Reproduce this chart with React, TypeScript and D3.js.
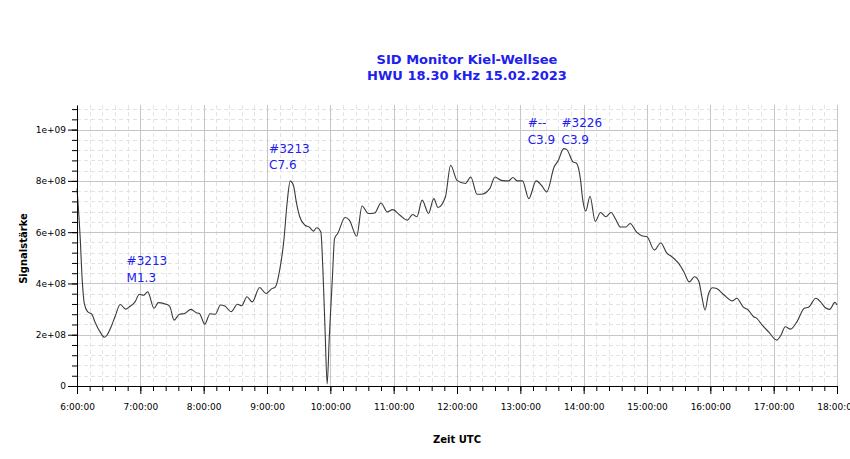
import * as d3 from "d3";
import React, { useEffect, useRef } from "react";

// readings, signal strength in units of 1e8
const times = [
  "06:00", "06:03", "06:05", "06:07", "06:10", "06:14", "06:17", "06:22", "06:26", "06:28",
  "06:33", "06:36", "06:41", "06:46", "06:50", "06:55", "06:59", "07:03", "07:07", "07:13",
  "07:17", "07:25", "07:28", "07:32", "07:37", "07:42", "07:48", "07:53", "07:56", "08:01",
  "08:06", "08:11", "08:16", "08:20", "08:26", "08:32", "08:36", "08:41", "08:46", "08:53",
  "08:59", "09:04", "09:08", "09:12", "09:16", "09:19", "09:22", "09:25", "09:28", "09:31",
  "09:36", "09:40", "09:44", "09:47", "09:51", "09:53", "09:55", "09:57", "09:59", "10:02",
  "10:04", "10:07", "10:14", "10:18", "10:25", "10:30", "10:36", "10:42", "10:48", "10:54",
  "10:59", "11:06", "11:13", "11:18", "11:22", "11:27", "11:33", "11:38", "11:42", "11:49",
  "11:54", "12:00", "12:08", "12:13", "12:19", "12:23", "12:31", "12:36", "12:42", "12:49",
  "12:53", "12:57", "13:02", "13:08", "13:15", "13:20", "13:25", "13:32", "13:36", "13:41",
  "13:44", "13:50", "13:53", "13:57", "13:59", "14:02", "14:06", "14:11", "14:16", "14:21",
  "14:26", "14:30", "14:35", "14:40", "14:44", "14:50", "14:55", "15:00", "15:07", "15:13",
  "15:19", "15:23", "15:30", "15:35", "15:40", "15:45", "15:49", "15:52", "15:55", "15:58",
  "16:02", "16:06", "16:13", "16:21", "16:25", "16:31", "16:36", "16:41", "16:44", "16:49",
  "16:55", "17:03", "17:07", "17:11", "17:16", "17:22", "17:29", "17:33", "17:40", "17:45",
  "17:49", "17:53", "17:58", "18:00",
];

const signalE8 = [
  7.7, 5.8, 4.1, 3.2, 2.9, 2.8, 2.5, 2.1, 1.9, 1.96,
  2.38, 2.7, 3.18, 3.0, 3.1, 3.28, 3.58, 3.54, 3.67, 3.03,
  3.25, 3.18, 3.09, 2.57, 2.8, 2.83, 2.99, 2.86, 2.83, 2.41,
  2.82, 2.8, 3.16, 3.12, 2.9, 3.19, 3.13, 3.48, 3.28, 3.84,
  3.61, 3.78, 3.87, 4.52, 5.69, 7.12, 7.99, 7.83, 7.12, 6.6,
  6.27, 6.2, 6.04, 6.17, 6.01, 4.5, 2.2, 0.08, 1.9, 4.26,
  5.75, 5.95, 6.57, 6.47, 5.84, 7.02, 6.73, 6.75, 7.14, 6.79,
  6.88, 6.66, 6.47, 6.69, 6.6, 7.25, 6.73, 7.31, 6.96, 7.37,
  8.61, 8.02, 7.9, 8.15, 7.48, 7.48, 7.7, 8.15, 8.02, 8.0,
  8.13, 8.0, 8.0, 7.31, 8.0, 7.83, 7.57, 8.54, 8.8, 9.26,
  9.22, 8.74, 8.7, 8.05, 7.3, 6.83, 7.4, 6.42, 6.77, 6.6,
  6.77, 6.53, 6.2, 6.2, 6.34, 6.01, 5.86, 5.82, 5.3, 5.58,
  5.17, 5.06, 4.78, 4.45, 4.06, 4.26, 4.1, 3.48, 2.96, 3.55,
  3.83, 3.8, 3.55, 3.32, 3.42, 3.09, 2.96, 2.7, 2.64, 2.38,
  2.12, 1.79, 1.99, 2.31, 2.22, 2.5, 3.03, 3.07, 3.42, 3.25,
  3.05, 2.99, 3.26, 3.16,
];

// flare annotations
const annoTimes = ["06:47", "09:02", "13:07", "13:39"];
const annoLevelE8 = [4.71, 9.1, 10.1, 10.1];
const annoTop = ["#3213", "#3213", "#--", "#3226"];
const annoBottom = ["M1.3", "C7.6", "C3.9", "C3.9"];

const yTicks = [0, 2e8, 4e8, 6e8, 8e8, 1e9];
const yMax = 1.096e9;
const titleLines = ["SID Monitor Kiel-Wellsee", "HWU 18.30 kHz 15.02.2023"];

const W = 850;
const H = 459;
const margin = { top: 105, right: 13, bottom: 73, left: 77 };
const FONT = "'DejaVu Sans', Verdana, sans-serif";
const BLUE = "#2020ee";

export default function App() {
  const svgRef = useRef<SVGSVGElement | null>(null);

  useEffect(() => {
    document.body.style.margin = "0";
    const svg = d3.select(svgRef.current);
    svg.selectAll("*").remove();

    const parse = d3.utcParse("%H:%M");
    const data = times.map((t, i) => ({ t: parse(t)!, v: signalE8[i] * 1e8 }));

    const x0 = margin.left;
    const x1 = W - margin.right;
    const y0 = H - margin.bottom;
    const y1 = margin.top;

    const x = d3
      .scaleUtc()
      .domain([parse("06:00")!, parse("18:00")!])
      .range([x0, x1]);
    const y = d3.scaleLinear().domain([0, yMax]).range([y0, y1]);

    const minorX = d3.utcMinute.every(12)!.range(x.domain()[0], new Date(+x.domain()[1] + 1));
    const majorX = d3.utcHour.every(1)!.range(x.domain()[0], new Date(+x.domain()[1] + 1));
    const minorY = d3.range(0, yMax, 4e7);

    const px = (v: number) => Math.round(v) + 0.5;

    const grid = svg.append("g");
    // minor dashed grid
    grid
      .selectAll(".vminor")
      .data(minorX)
      .enter()
      .append("line")
      .attr("x1", (d) => px(x(d)))
      .attr("x2", (d) => px(x(d)))
      .attr("y1", y1)
      .attr("y2", y0)
      .attr("stroke", "#e3e3e3")
      .attr("stroke-dasharray", "4,3");
    grid
      .selectAll(".hminor")
      .data(minorY)
      .enter()
      .append("line")
      .attr("x1", x0)
      .attr("x2", x1)
      .attr("y1", (d) => px(y(d)))
      .attr("y2", (d) => px(y(d)))
      .attr("stroke", "#e3e3e3")
      .attr("stroke-dasharray", "4,3");
    // major solid grid
    grid
      .selectAll(".vmajor")
      .data(majorX)
      .enter()
      .append("line")
      .attr("x1", (d) => px(x(d)))
      .attr("x2", (d) => px(x(d)))
      .attr("y1", y1)
      .attr("y2", y0)
      .attr("stroke", "#c6c6c6");
    grid
      .selectAll(".hmajor")
      .data(yTicks)
      .enter()
      .append("line")
      .attr("x1", x0)
      .attr("x2", x1)
      .attr("y1", (d) => px(y(d)))
      .attr("y2", (d) => px(y(d)))
      .attr("stroke", "#c6c6c6");

    const line = d3
      .line<{ t: Date; v: number }>()
      .x((d) => x(d.t))
      .y((d) => y(d.v))
      .curve(d3.curveMonotoneX);

    svg
      .append("path")
      .datum(data)
      .attr("d", line)
      .attr("fill", "none")
      .attr("stroke", "#3a3a3a")
      .attr("stroke-width", 1.1);

    // axes
    const fmt = d3.utcFormat("%-H:%M:%S");
    const xMinorAxis = svg
      .append("g")
      .attr("transform", `translate(0,${y0})`)
      .call(d3.axisBottom(x).tickValues(minorX).tickSize(5).tickSizeOuter(0).tickFormat(() => ""));
    xMinorAxis.select(".domain").remove();
    const xAxis = svg
      .append("g")
      .attr("transform", `translate(0,${y0})`)
      .call(
        d3
          .axisBottom(x)
          .tickValues(majorX)
          .tickSize(8)
          .tickSizeOuter(0)
          .tickPadding(9.6)
          .tickFormat((d) => fmt(d as Date))
      );
    xAxis.attr("font-family", FONT).attr("font-size", 9);

    const yMinorAxis = svg
      .append("g")
      .attr("transform", `translate(${x0},0)`)
      .call(d3.axisLeft(y).tickValues(minorY).tickSize(5).tickSizeOuter(0).tickFormat(() => ""));
    yMinorAxis.select(".domain").remove();
    const yAxis = svg
      .append("g")
      .attr("transform", `translate(${x0},0)`)
      .call(
        d3
          .axisLeft(y)
          .tickValues(yTicks)
          .tickSize(9)
          .tickSizeOuter(0)
          .tickPadding(2)
          .tickFormat((d) => (d === 0 ? "0" : d3.format(".0e")(d as number).replace(/e\+(\d)$/, "e+0$1")))
      );
    yAxis.attr("font-family", FONT).attr("font-size", 9);

    // annotations
    const ann = svg.append("g").attr("font-family", FONT).attr("font-size", 12).attr("fill", BLUE);
    annoTimes.forEach((t, i) => {
      const ax = x(parse(t)!);
      const ay = y(annoLevelE8[i] * 1e8);
      ann.append("text").attr("x", ax).attr("y", ay).text(annoTop[i]);
      ann.append("text").attr("x", ax).attr("y", ay + 16.7).text(annoBottom[i]);
    });

    // titles
    const title = svg
      .append("g")
      .attr("font-family", FONT)
      .attr("font-size", 13)
      .attr("font-weight", "bold")
      .attr("fill", BLUE)
      .attr("text-anchor", "middle");
    titleLines.forEach((s, i) => {
      title.append("text").attr("x", 467).attr("y", 64 + i * 16).text(s);
    });

    svg
      .append("text")
      .attr("x", (x0 + x1) / 2)
      .attr("y", 443)
      .attr("text-anchor", "middle")
      .attr("font-family", FONT)
      .attr("font-size", 10)
      .attr("font-weight", "bold")
      .text("Zeit UTC");

    svg
      .append("text")
      .attr("transform", `translate(26.5,${(y0 + y1) / 2 + 3}) rotate(-90)`)
      .attr("text-anchor", "middle")
      .attr("font-family", FONT)
      .attr("font-size", 10)
      .attr("font-weight", "bold")
      .text("Signalstärke");
  }, []);

  return <svg ref={svgRef} width={W} height={H} style={{ display: "block", background: "#fff" }} />;
}
